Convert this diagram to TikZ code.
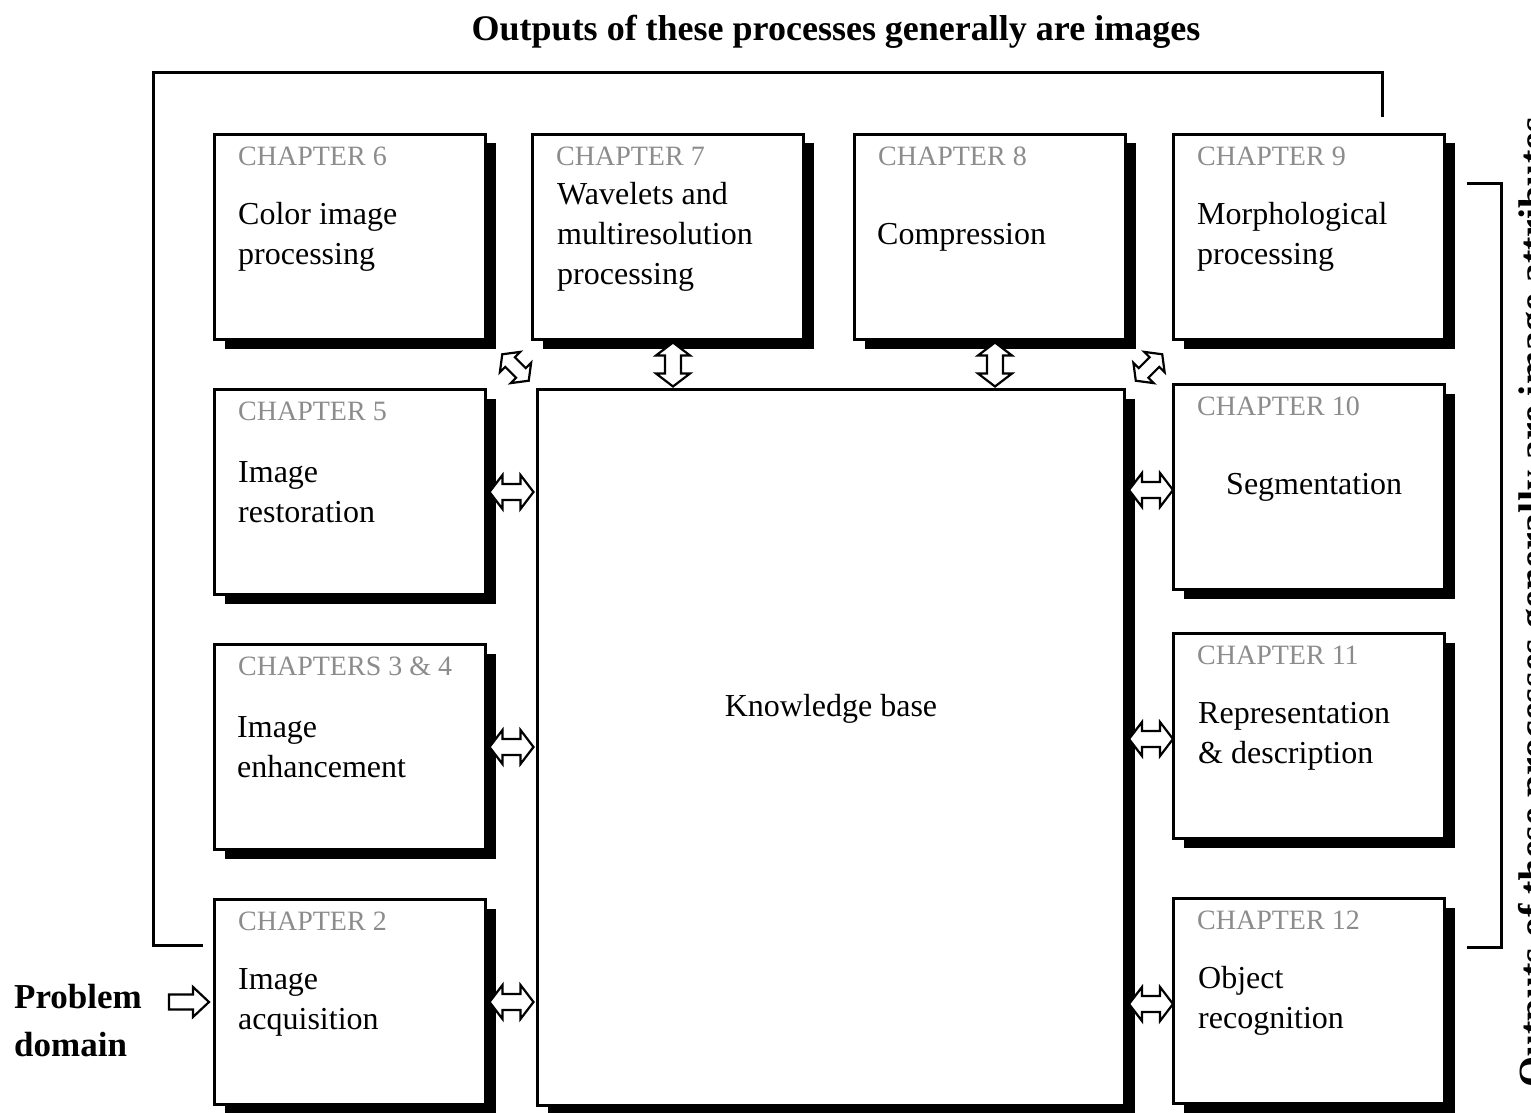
\documentclass[tikz,border=0pt]{standalone}
\usepackage{fontspec}
\setmainfont{Liberation Serif}
\usetikzlibrary{calc,shadows}
\tikzset{
  x=1pt, y=-1pt,
  box/.style={draw, line width=3pt, fill=white, anchor=north west,
    minimum width=271pt, minimum height=205pt, inner sep=0pt,
    drop shadow={shadow xshift=10pt, shadow yshift=-9pt, fill=black, opacity=1}},
  chap/.style={anchor=west, text=black!45, inner sep=0pt,
    font=\fontsize{28}{30}\selectfont},
  body/.style={anchor=west, align=left, inner sep=0pt,
    font=\fontsize{32}{40}\selectfont},
  frame/.style={line width=3pt},
  hollow/.style={draw, line width=2.2pt, fill=white, line join=miter},
  dbl/.pic={\path[hollow] (-22,0) -- (-9,-17) -- (-9,-8) -- (9,-8) -- (9,-17)
      -- (22,0) -- (9,17) -- (9,8) -- (-9,8) -- (-9,17) -- cycle;},
  sgl/.pic={\path[hollow] (-20,-7.5) -- (4,-7.5) -- (4,-15) -- (20,0)
      -- (4,15) -- (4,7.5) -- (-20,7.5) -- cycle;},
}
\newcommand\mybox[5]{%
  \node[box] (#1) at (#2) {};
  \node[chap] (#1c) at ($(#1.north west)+(25,23)$) {#3};
  \node[body] (#1b) at ($(#1.west)+(#5,0)$) {#4};
}
\begin{document}
\begin{tikzpicture}
\useasboundingbox[fill=white] (0,0) rectangle (1531,1113);

% frame lines
\coordinate (f1) at (203,945);
\coordinate (f2) at (1382,117);
\draw[frame] (f1) -| (153,73) -| (f2);
\coordinate (b1) at (1467,183);
\coordinate (b2) at (1467,947);
\draw[frame] (b1) -| (1501,947) -- (b2);

% boxes
\mybox{ch6}{213,133}{CHAPTER 6}{Color image\\processing}{25}
\mybox{ch7}{531,133}{CHAPTER 7}{Wavelets and\\multiresolution\\processing}{26}
\mybox{ch8}{853,133}{CHAPTER 8}{Compression}{24}
\mybox{ch9}{1172,133}{CHAPTER 9}{Morphological\\processing}{25}
\mybox{ch5}{213,388}{CHAPTER 5}{Image\\restoration}{25}
\mybox{ch34}{213,643}{CHAPTERS 3 \& 4}{Image\\enhancement}{24}
\mybox{ch2}{213,898}{CHAPTER 2}{Image\\acquisition}{25}
\mybox{ch10}{1172,383}{CHAPTER 10}{Segmentation}{54}
\mybox{ch11}{1172,632}{CHAPTER 11}{Representation\\\& description}{26}
\mybox{ch12}{1172,897}{CHAPTER 12}{Object\\recognition}{26}

\node[box, minimum width=587pt, minimum height=716pt] (kb) at (536,388) {};
\node[font=\fontsize{32}{40}\selectfont] (kbl) at ($(kb.north)+(0,321)$) {Knowledge base};

% connectors (hollow double arrows)
\pic at ($(ch5.east)!0.5!(ch5.east -| kb.west)$) {dbl};
\pic at ($(ch34.east)!0.5!(ch34.east -| kb.west)$) {dbl};
\pic at ($(ch2.east)!0.5!(ch2.east -| kb.west)$) {dbl};
\pic at ($(ch10.west)!0.5!(ch10.west -| kb.east)+(2,3)$) {dbl};
\pic at ($(ch11.west)!0.5!(ch11.west -| kb.east)+(2,3)$) {dbl};
\pic at ($(ch12.west)!0.5!(ch12.west -| kb.east)+(2,3)$) {dbl};
\pic[rotate=90] at ($(ch7.south)!0.5!(ch7.south |- kb.north)+(5,0)$) {dbl};
\pic[rotate=90] at ($(ch8.south)!0.5!(ch8.south |- kb.north)+(5,0)$) {dbl};
\pic[rotate=-45, scale=0.85] at ($(ch6.south east)!0.5!(kb.north west)+(4,3)$) {dbl};
\pic[rotate=45, scale=0.85] at ($(ch9.south west)!0.5!(kb.north east)+(0,3)$) {dbl};

% texts
\node[font=\bfseries\fontsize{36}{40}\selectfont] (title) at (836,32)
  {Outputs of these processes generally are images};
\node[font=\bfseries\fontsize{35}{48}\selectfont, anchor=west, align=left, inner sep=0pt]
  (prob) at (14,1021) {Problem\\domain};
\pic at ($(ch2.west)+(-24,0)$) {sgl};
\node[rotate=90, anchor=north west, inner sep=0pt,
  font=\bfseries\fontsize{40}{44}\selectfont] (side) at (1518,1088)
  {Outputs of these processes generally are image attributes};
\end{tikzpicture}
\end{document}
